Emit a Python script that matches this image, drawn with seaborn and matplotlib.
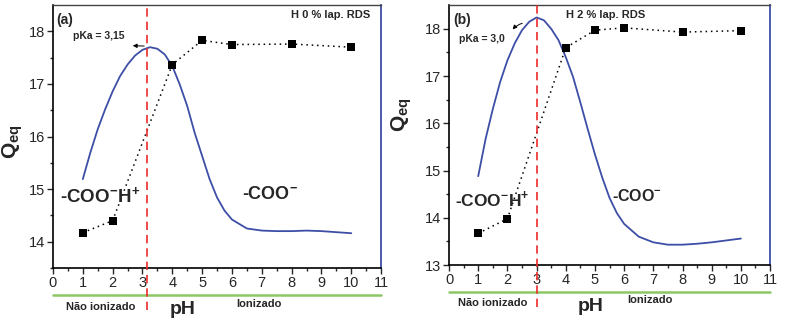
import matplotlib
matplotlib.use("Agg")
import matplotlib.pyplot as plt
import seaborn as sns
import pandas as pd

# measured points (squares, dotted line)
ph_pts = [1, 2, 4, 5, 6, 8, 10]
qeq_a = [14.17, 14.40, 17.37, 17.83, 17.75, 17.76, 17.70]
qeq_b = [13.67, 13.98, 17.60, 17.97, 18.02, 17.93, 17.96]

# blue fitted curve
curve_ph = [1.0, 1.25, 1.5, 1.75, 2.0, 2.25, 2.5, 2.75, 3.0, 3.25, 3.5, 3.75, 4.0,
            4.25, 4.5, 4.75, 5.0, 5.25, 5.5, 5.75, 6.0, 6.5, 7.0, 7.5, 8.0, 8.5,
            9.0, 9.5, 10.0]
curve_a = [15.19, 15.69, 16.14, 16.52, 16.86, 17.15, 17.37, 17.54, 17.65, 17.70,
           17.67, 17.56, 17.34, 16.99, 16.58, 16.07, 15.63, 15.19, 14.84, 14.59,
           14.42, 14.25, 14.21, 14.20, 14.20, 14.21, 14.20, 14.18, 14.16]
curve_b = [14.88, 15.66, 16.30, 16.87, 17.33, 17.69, 17.97, 18.15, 18.24, 18.18,
           18.00, 17.76, 17.40, 16.98, 16.44, 15.88, 15.34, 14.85, 14.42, 14.10,
           13.87, 13.60, 13.48, 13.43, 13.43, 13.45, 13.48, 13.52, 13.56]

pka_a, pka_b = 3.15, 3.0

sns.set_style("ticks")
plt.rcParams['font.family'] = ['Liberation Sans', 'DejaVu Sans']
plt.rcParams['mathtext.fontset'] = 'custom'
plt.rcParams['mathtext.rm'] = 'Liberation Sans'
plt.rcParams['mathtext.bf'] = 'Liberation Sans:bold'

BLUE = '#3d4ea6'
RED = '#ee2b2b'
GREEN = '#8cc665'

fig = plt.figure(figsize=(7.85, 3.22), dpi=100)
ax_a = fig.add_axes([0.0675, 0.168, 0.418, 0.816])
ax_b = fig.add_axes([0.572, 0.177, 0.409, 0.807])

panels = [
    (ax_a, qeq_a, curve_a, pka_a, (13.5, 18.5), [14, 15, 16, 17, 18], (-0.085, 0.48)),
    (ax_b, qeq_b, curve_b, pka_b, (13.0, 18.5), [13, 14, 15, 16, 17, 18], (-0.11, 0.58)),
]

for ax, qeq, curve, pka, ylim, yt, lab_xy in panels:
    pts = pd.DataFrame({'pH': ph_pts, 'Qeq': qeq})
    fit = pd.DataFrame({'pH': curve_ph, 'Qeq': curve})
    sns.lineplot(data=fit, x='pH', y='Qeq', ax=ax, color=BLUE, lw=1.3)
    sns.lineplot(data=pts, x='pH', y='Qeq', ax=ax, color='black', lw=1.1,
                 linestyle=(0, (1, 2.5)))
    sns.scatterplot(data=pts, x='pH', y='Qeq', ax=ax, color='black', marker='s',
                    s=40, edgecolor='black', linewidth=0, zorder=5)
    ax.axvline(pka, ymin=-0.16, ymax=1, color=RED, ls=(0, (5, 3)), lw=1.2,
               clip_on=False, zorder=6)
    ax.plot([0, 1], [-0.103, -0.103], transform=ax.transAxes, color=GREEN,
            lw=1.8, clip_on=False)
    ax.set_xlim(0, 11)
    ax.set_ylim(*ylim)
    ax.set_xticks(range(0, 12))
    ax.set_yticks(yt)
    ax.set_xticks([x + 0.5 for x in range(0, 11)], minor=True)
    ax.set_yticks([y + 0.5 for y in range(int(ylim[0]), 18)], minor=True)
    ax.tick_params(which='major', direction='out', length=4, width=1,
                   labelsize=10.5, pad=2)
    ax.tick_params(which='minor', direction='out', length=2, width=1)
    ax.set_xlabel('')
    ax.set_ylabel(r'$\mathbf{Q_{eq}}$', fontsize=15)
    ax.yaxis.set_label_coords(*lab_xy)
    for side in ['left', 'bottom']:
        ax.spines[side].set_color('black')
        ax.spines[side].set_linewidth(1.2)
    ax.spines['right'].set_color(BLUE)
    ax.spines['right'].set_linewidth(1.3)
    ax.spines['top'].set_color('#444444')
    ax.spines['top'].set_linewidth(1.0)

ion_h = r'-COO$^{\mathbf{-}}$H$^{\mathbf{+}}$'
ion = r'-COO$^{\mathbf{-}}$'

# panel (a) annotations
ax_a.text(0.01, 0.97, '(a)', transform=ax_a.transAxes, fontsize=10,
          fontweight='bold', va='top', ha='left')
ax_a.text(0.966, 0.962, 'H 0 % lap. RDS', transform=ax_a.transAxes, fontsize=8,
          fontweight='bold', va='center', ha='right')
ax_a.text(0.67, 17.92, 'pKa = 3,15', fontsize=7.5, fontweight='bold',
          va='center', ha='left')
ax_a.annotate('', xy=(2.58, 17.73), xytext=(3.15, 17.72),
              arrowprops=dict(arrowstyle='-|>', color='black', lw=0.7,
                              mutation_scale=6))
ax_a.text(0.22, 14.85, ion_h, fontsize=13.5, fontweight='bold',
          va='center', ha='left')
ax_a.text(6.35, 14.9, ion, fontsize=13, fontweight='bold',
          va='center', ha='left')
ax_a.text(0.146, -0.148, 'Não ionizado', transform=ax_a.transAxes, fontsize=8,
          fontweight='bold', ha='center', va='center')
ax_a.text(0.396, -0.16, 'pH', transform=ax_a.transAxes, fontsize=14,
          fontweight='bold', ha='center', va='center')
ax_a.text(0.628, -0.137, 'Ionizado', transform=ax_a.transAxes, fontsize=8,
          fontweight='bold', ha='center', va='center')

# panel (b) annotations
ax_b.text(0.012, 0.97, '(b)', transform=ax_b.transAxes, fontsize=10,
          fontweight='bold', va='top', ha='left')
ax_b.text(0.61, 0.962, 'H 2 % lap. RDS', transform=ax_b.transAxes, fontsize=8,
          fontweight='bold', va='center', ha='right')
ax_b.text(0.34, 17.79, 'pKa = 3,0', fontsize=7.5, fontweight='bold',
          va='center', ha='left')
ax_b.annotate('', xy=(2.12, 17.94), xytext=(2.6, 18.13),
              arrowprops=dict(arrowstyle='-|>', color='black', lw=0.7,
                              mutation_scale=6, connectionstyle='arc3,rad=0.2'))
ax_b.text(0.2, 14.39, ion_h, fontsize=12.5, fontweight='bold',
          va='center', ha='left')
ax_b.text(5.58, 14.45, ion, fontsize=11.5, fontweight='bold',
          va='center', ha='left')
ax_b.text(0.137, -0.146, 'Não ionizado', transform=ax_b.transAxes, fontsize=8,
          fontweight='bold', ha='center', va='center')
ax_b.text(0.442, -0.16, 'pH', transform=ax_b.transAxes, fontsize=14,
          fontweight='bold', ha='center', va='center')
ax_b.text(0.626, -0.135, 'Ionizado', transform=ax_b.transAxes, fontsize=8,
          fontweight='bold', ha='center', va='center')

fig.savefig('out.png', dpi=100)
